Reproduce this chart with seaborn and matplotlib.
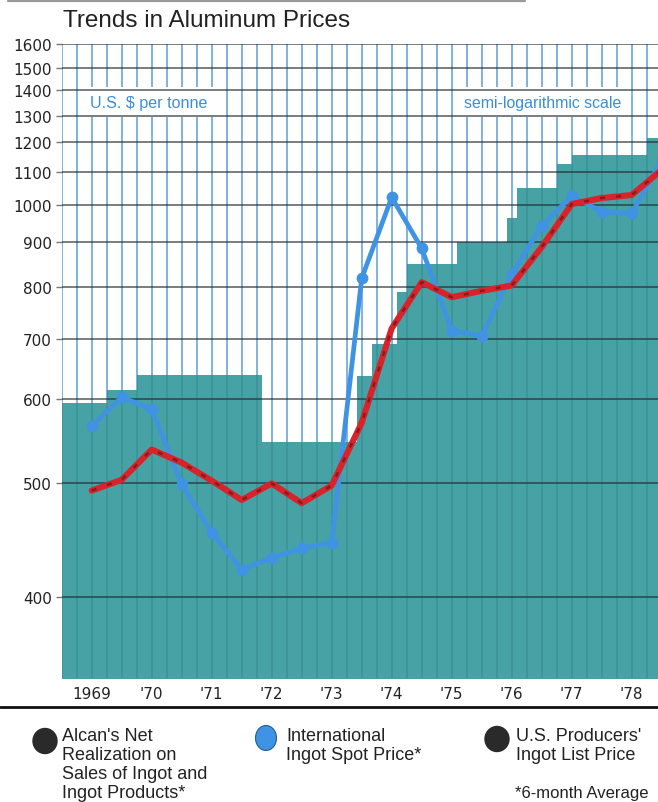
import numpy as np
import pandas as pd
import matplotlib
matplotlib.use("Agg")
import matplotlib.pyplot as plt
import seaborn as sns
from matplotlib.patches import Ellipse
from matplotlib.collections import LineCollection

# ---------------- data ----------------
PERIODS = [1969.5, 1970.0, 1970.5, 1971.0, 1971.5, 1972.0, 1972.5, 1973.0, 1973.5,
           1974.0, 1974.5, 1975.0, 1975.5, 1976.0, 1976.5, 1977.0, 1977.5, 1978.0,
           1978.5, 1979.0]
SPOT_PRICE = [566, 603, 587, 499, 454, 422, 432, 440, 445,
              819, 1022, 886, 716, 706, 828, 943, 1025, 981, 976, 1140]
LIST_PRICE = [493, 504, 538, 523, 503, 484, 500, 481, 498,
              570, 720, 811, 780, 793, 804, 889, 1002, 1020, 1029, 1108]
REALIZATION_START = [1969.0, 1969.75, 1970.25, 1972.33, 1973.92, 1974.17, 1974.58,
                     1974.75, 1975.58, 1976.42, 1976.58, 1977.25, 1977.5, 1978.75, 1979.0]
REALIZATION = [595, 614, 638, 547, 637, 692, 790, 850, 901, 964, 1050, 1127, 1156,
               1216, 1216]
YEAR_LABELS = ["1969", "'70", "'71", "'72", "'73", "'74", "'75", "'76", "'77", "'78"]
Y_TICKS = [400, 500, 600, 700, 800, 900, 1000, 1100, 1200, 1300, 1400, 1500, 1600]

# calibration of the printed (uneven) semi-log ruling: value -> pixel row
SCALE_VALUES = [300, 400, 500, 600, 700, 800, 900, 1000, 1100, 1200, 1300, 1400, 1500, 1600, 2000]
SCALE_PIXELS = [743.9, 597.7, 484.3, 400.0, 340.3, 288.3, 243.3, 205.7, 173.3, 143.3,
                116.7, 91.0, 69.3, 45.3, -37.7]

TEAL = "#47a2a6"
BLUE = "#3f93e2"
RED = "#d9232b"
GRID_BLUE = "#6aa6dc"

sns.set_theme(style="white")
plt.rcParams["font.family"] = ["Liberation Sans", "DejaVu Sans"]

W, H = 658, 803
fig = plt.figure(figsize=(W / 100, H / 100), dpi=100)
ax = fig.add_axes([61.7 / W, (H - 679) / H, 600 / W, (679 - 45.3) / H])

_lv = np.log(np.asarray(SCALE_VALUES, float))
_pos = -np.asarray(SCALE_PIXELS, float)


def fwd(v):
    v = np.asarray(v, float)
    return np.interp(np.log(np.clip(v, 1e-6, None)), _lv, _pos)


def inv(p):
    return np.exp(np.interp(np.asarray(p, float), _pos, _lv))


ax.set_yscale("function", functions=(fwd, inv))
ax.set_xlim(1969, 1979)
ax.set_ylim(341, 1600)
ax.set_facecolor("white")

# Alcan net realization (stepped area)
poly = ax.fill_between(REALIZATION_START, REALIZATION, 300, step="post",
                       color=TEAL, lw=0, zorder=1)

# quarter-year vertical ruling
quarters = np.arange(1969.0, 1979.01, 0.25)
for q in quarters:
    ax.axvline(q, color=GRID_BLUE, lw=1.2, zorder=0.5)
segs = [[(q, 300), (q, 2000)] for q in quarters]
dark = LineCollection(segs, colors="#0d4f5a", linewidths=1.2, alpha=0.2,
                      transform=ax.transData, zorder=1.5)
ax.add_collection(dark)
dark.set_clip_path(poly.get_paths()[0], ax.transData)

# horizontal ruling at each price level
for v in Y_TICKS:
    ax.axhline(v, color="#1f2a2c", lw=1.2, alpha=0.7, zorder=2)

# series
df = pd.DataFrame({"period": PERIODS, "spot": SPOT_PRICE, "list": LIST_PRICE})
sns.lineplot(data=df, x="period", y="spot", ax=ax, color=BLUE, lw=3.4,
             marker="o", markersize=8.5, markeredgewidth=0, zorder=3)
sns.lineplot(data=df, x="period", y="list", ax=ax, color=RED, lw=4.4, zorder=4)
ax.plot(df["period"], df["list"], color="#2a0d0d", lw=1.8, alpha=0.45,
        dashes=(2.0, 4.5), zorder=5, solid_capstyle="butt")

# axes styling
ax.set_xlabel("")
ax.set_ylabel("")
for s in ax.spines.values():
    s.set_visible(False)
ax.set_xticks([1969.5 + i for i in range(len(YEAR_LABELS))])
ax.set_xticklabels(YEAR_LABELS, fontsize=11, family=["DejaVu Sans"], color="#222")
ax.set_yticks(Y_TICKS)
ax.set_yticklabels([str(v) for v in Y_TICKS], fontsize=11, family=["DejaVu Sans"], color="#222")
ax.yaxis.set_minor_locator(matplotlib.ticker.NullLocator())
ax.tick_params(axis="x", length=0, pad=6)
ax.tick_params(axis="y", length=4, width=1, color="#777", pad=3, left=True)

# annotations inside plot
ax.text(1969.47, 1352, "U.S. $ per tonne", color="#3b8ed8", fontsize=11.6,
        va="center", ha="left", zorder=1.8,
        bbox=dict(boxstyle="square,pad=0.45", fc="white", ec="none"))
ax.text(1975.70, 1352, "semi-logarithmic scale", color="#3b8ed8", fontsize=11.4,
        va="center", ha="left", zorder=1.8,
        bbox=dict(boxstyle="square,pad=0.45", fc="white", ec="none"))

# ---------------- overlay (title, separators, legend) ----------------
lax = fig.add_axes([0, 0, 1, 1])
lax.set_xlim(0, W)
lax.set_ylim(H, 0)
lax.axis("off")

lax.plot([8, 525], [2, 2], color="#9a9a9a", lw=1.6)
lax.text(63, 21, "Trends in Aluminum Prices", fontsize=17.5, va="center", ha="left",
         color="#222")
lax.plot([0, W], [708, 708], color="#111", lw=2.0)

lax.add_patch(Ellipse((45, 742), 24, 25, color="#2a2a2a"))
lax.add_patch(Ellipse((266, 739), 21, 25, fc=BLUE, ec="#1f5e9e", lw=0.8))
lax.add_patch(Ellipse((497, 740), 24, 25, color="#2a2a2a"))

leg_kw = dict(fontsize=13, va="top", ha="left", color="#222", linespacing=1.15)
lax.text(62, 728, "Alcan's Net\nRealization on\nSales of Ingot and\nIngot Products*", **leg_kw)
lax.text(286, 728, "International\nIngot Spot Price*", **leg_kw)
lax.text(516, 728, "U.S. Producers'\nIngot List Price", **leg_kw)
lax.text(515, 786, "*6-month Average", fontsize=12, va="top", ha="left", color="#222")

fig.savefig("out.png", dpi=100)
